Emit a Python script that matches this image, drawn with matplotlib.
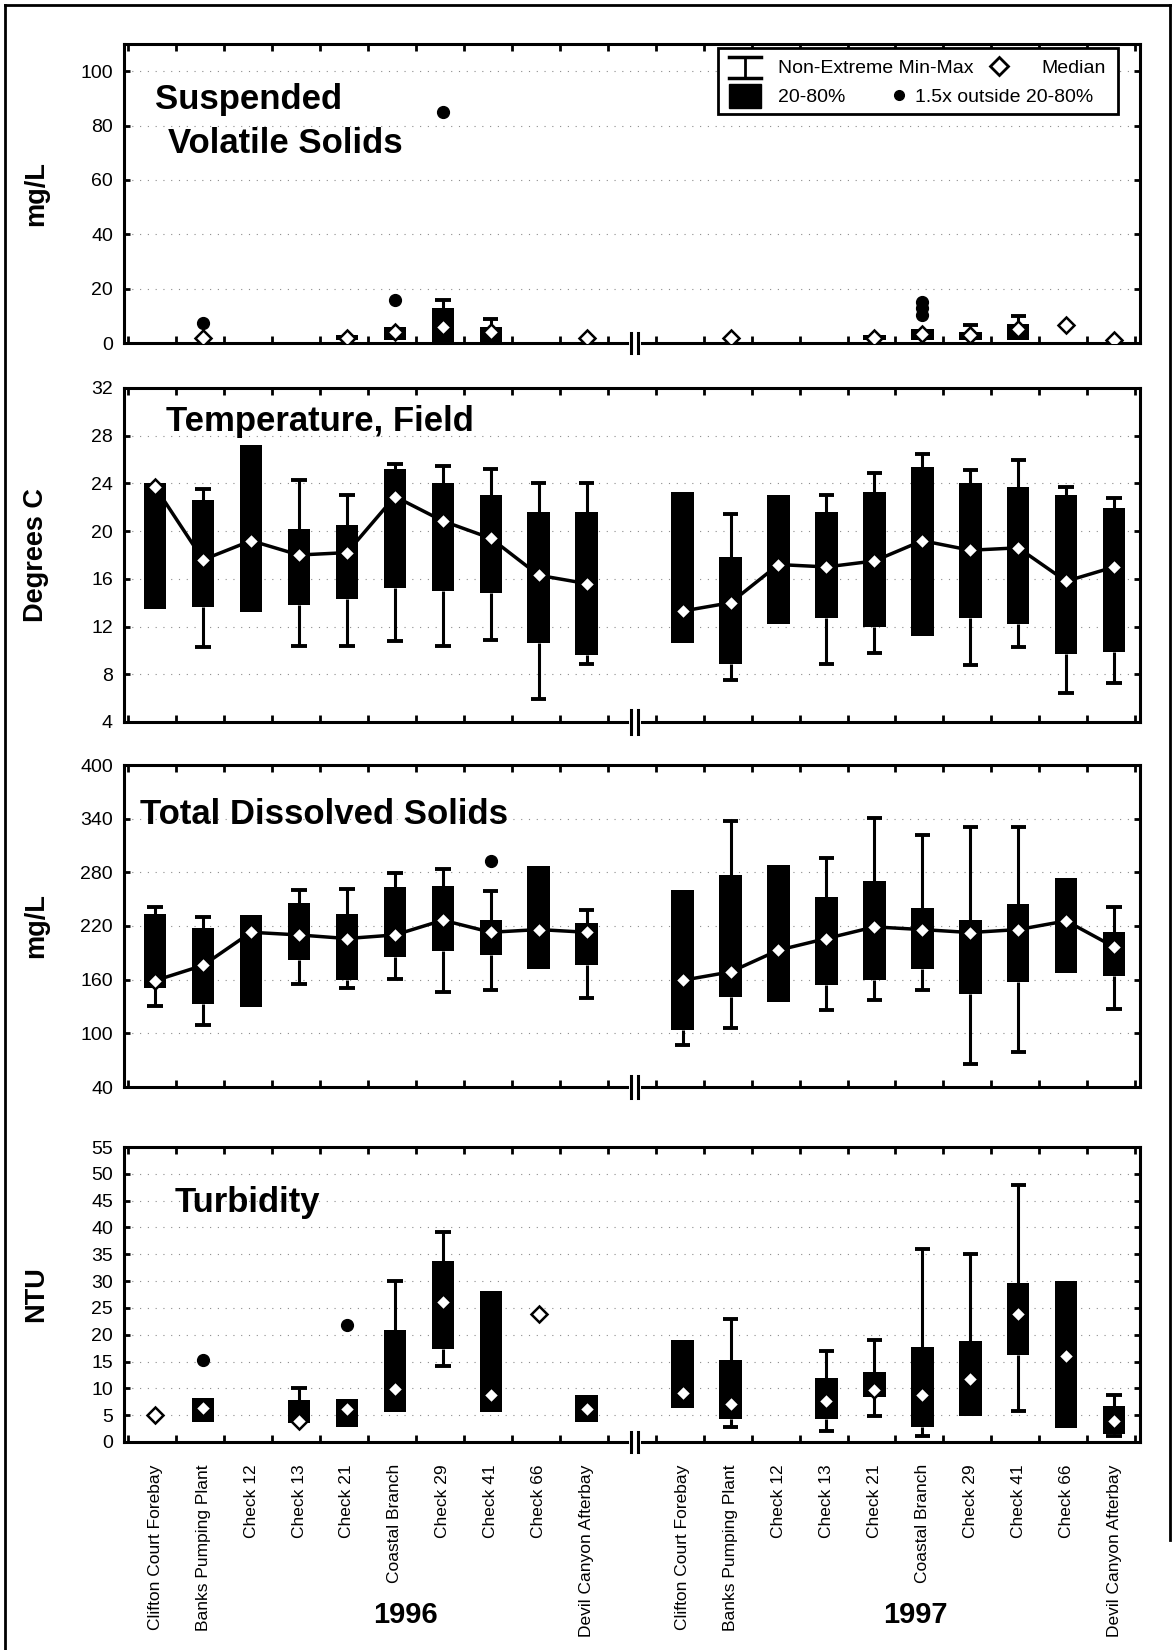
import numpy as np
import matplotlib
matplotlib.use("Agg")
import matplotlib.pyplot as plt
import matplotlib.transforms as mtransforms
from matplotlib.lines import Line2D
from matplotlib.patches import Rectangle

plt.rcParams['font.family'] = ['Liberation Sans', 'DejaVu Sans']

nan = np.nan

# sites sampled each year
sites = ["Clifton Court Forebay", "Banks Pumping Plant", "Check 12", "Check 13", "Check 21",
         "Coastal Branch", "Check 29", "Check 41", "Check 66", "Devil Canyon Afterbay"]
years = ["1996", "1997"]

# Suspended Volatile Solids (mg/L): whisker low, box low (20%), median, box high (80%), whisker high
svs_wlo_96 = [nan] * 10
svs_blo_96 = [nan, nan, nan, nan, 1, 1, 0.5, 0.5, nan, nan]
svs_med_96 = [nan, 2, nan, nan, 2, 4, 6, 4, nan, 2]
svs_bhi_96 = [nan, nan, nan, nan, 3, 6, 13, 6, nan, nan]
svs_whi_96 = [nan, nan, nan, nan, nan, nan, 16, 9, nan, nan]
svs_out_96 = [(1, 7.3), (5, 16), (6, 85)]
svs_wlo_97 = [nan] * 10
svs_blo_97 = [nan, nan, nan, nan, 1, 1, 1, 1, nan, nan]
svs_med_97 = [nan, 2, nan, nan, 2, 3.3, 3, 5, 6.6, 1]
svs_bhi_97 = [nan, nan, nan, nan, 3, 5, 4, 7, nan, nan]
svs_whi_97 = [nan, nan, nan, nan, nan, nan, 6.6, 9.9, nan, nan]
svs_out_97 = [(5, 10.3), (5, 12.8), (5, 15)]

# Temperature, Field (Degrees C)
tmp_wlo_96 = [nan, 10.3, nan, 10.35, 10.35, 10.8, 10.4, 10.85, 5.95, 8.9]
tmp_blo_96 = [13.5, 13.6, 13.2, 13.8, 14.3, 15.2, 15.0, 14.8, 10.6, 9.6]
tmp_med_96 = [23.7, 17.6, 19.2, 18.0, 18.2, 22.9, 20.85, 19.4, 16.3, 15.6]
tmp_bhi_96 = [24.0, 22.6, 27.2, 20.2, 20.5, 25.2, 24.0, 23.0, 21.6, 21.6]
tmp_whi_96 = [nan, 23.5, nan, 24.3, 23.0, 25.6, 25.5, 25.2, 24.0, 24.0]
tmp_wlo_97 = [nan, 7.5, nan, 8.9, 9.8, nan, 8.8, 10.3, 6.45, 7.3]
tmp_blo_97 = [10.6, 8.9, 12.25, 12.7, 12.0, 11.2, 12.7, 12.25, 9.7, 9.9]
tmp_med_97 = [13.3, 14.0, 17.2, 17.0, 17.5, 19.2, 18.4, 18.6, 15.8, 17.0]
tmp_bhi_97 = [23.3, 17.8, 23.0, 21.6, 23.3, 25.4, 24.0, 23.7, 23.0, 21.9]
tmp_whi_97 = [nan, 21.4, nan, 23.0, 24.9, 26.5, 25.1, 26.0, 23.7, 22.75]

# Total Dissolved Solids (mg/L)
tds_wlo_96 = [131, 109, nan, 155.6, 151, 161, 146, 149, nan, 139]
tds_blo_96 = [151, 133, 130, 182.5, 160, 185, 192, 188, 172, 176]
tds_med_96 = [159, 176, 213, 210, 206, 210, 226.5, 213, 216, 213]
tds_bhi_96 = [233, 218, 232, 246, 233, 264, 264.5, 226.5, 287, 223.5]
tds_whi_96 = [241, 230, nan, 260, 261, 279.5, 284, 259, nan, 238.4]
tds_out_96 = [(7, 292.5)]
tds_wlo_97 = [86.6, 106, nan, 125.7, 137.7, 148, 66, 79, nan, 127.6]
tds_blo_97 = [103.4, 140.7, 135, 154.5, 160, 172.4, 144.4, 157.5, 167.5, 164]
tds_med_97 = [159.3, 168.7, 193, 206, 219, 216, 212.7, 216, 225.7, 196.6]
tds_bhi_97 = [260, 277, 288, 252.6, 270.5, 239.6, 226.5, 245, 274, 213.4]
tds_whi_97 = [nan, 337.7, nan, 295.5, 341, 321.6, 331, 331, nan, 240.7]
tds_out_97 = []

# Turbidity (NTU)
tur_wlo_96 = [nan, nan, nan, nan, nan, nan, 14.1, nan, nan, nan]
tur_blo_96 = [nan, 3.7, nan, 3.5, 2.8, 5.6, 17.4, 5.6, nan, 3.7]
tur_med_96 = [5.0, 6.4, nan, 4.0, 6.2, 9.9, 26.1, 8.7, 23.9, 6.2]
tur_bhi_96 = [nan, 8.2, nan, 7.9, 8.1, 20.9, 33.7, 28.1, nan, 8.8]
tur_whi_96 = [nan, nan, nan, 10.1, nan, 30.1, 39.2, nan, nan, nan]
tur_out_96 = [(1, 15.2), (4, 21.9)]
tur_wlo_97 = [nan, 2.8, nan, 2.0, 4.8, 1.06, nan, 5.7, nan, 1.06]
tur_blo_97 = [6.4, 4.35, nan, 4.35, 8.4, 2.8, 4.85, 16.3, 2.7, 1.55]
tur_med_97 = [9.2, 7.1, nan, 7.6, 9.75, 8.7, 11.8, 23.9, 16.0, 4.0]
tur_bhi_97 = [18.95, 15.2, nan, 12.0, 13.05, 17.8, 18.8, 29.7, 30.0, 6.7]
tur_whi_97 = [nan, 22.9, nan, 17.0, 18.95, 36.0, 35.0, 47.9, nan, 8.8]
tur_out_97 = []

# categorical slots: 1996 in 0..9, one empty slot (axis break), 1997 in 11..20
pos_96 = np.arange(10)
pos_97 = np.arange(11, 21)
x_break = 10.0

fig = plt.figure(figsize=(11.74, 16.5), dpi=100)
L, W = 124 / 1174, 1016 / 1174


def panel_axes(top_px, bot_px):
    return fig.add_axes([L, 1 - bot_px / 1650, W, (bot_px - top_px) / 1650])


def draw_year(ax, pos, wlo, blo, med, bhi, whi, outl, connect):
    wlo, blo, med, bhi, whi = map(np.array, (wlo, blo, med, bhi, whi))
    ok = ~np.isnan(blo)
    ax.bar(pos[ok], bhi[ok] - blo[ok], bottom=blo[ok], width=0.47, color='black', zorder=2)
    cap = 0.16
    for x, a, b, c, d in zip(pos, wlo, blo, bhi, whi):
        if not np.isnan(d):
            ax.vlines(x, c, d, color='black', lw=2.2, zorder=2)
            ax.hlines(d, x - cap, x + cap, color='black', lw=2.8, zorder=2)
        if not np.isnan(a):
            ax.vlines(x, a, b, color='black', lw=2.2, zorder=2)
            ax.hlines(a, x - cap, x + cap, color='black', lw=2.8, zorder=2)
    if connect:
        ax.plot(pos, med, color='black', lw=2.5, zorder=3)
    ax.plot(pos, med, ls='none', marker='D', ms=8.5, mfc='white', mec='black', mew=1.8, zorder=4)
    for i, v in outl:
        ax.plot(pos[i], v, 'o', color='black', ms=8.5, zorder=4)


def style(ax, ylim, yticks, ylabel):
    ax.set_xlim(-0.65, 20.54)
    ax.set_ylim(*ylim)
    ax.set_yticks(yticks)
    ax.set_xticks(np.arange(-1, 21) + 0.44)
    ax.tick_params(axis='x', which='major', direction='in', top=True, bottom=True,
                   length=5, width=2, labelbottom=False)
    ax.tick_params(axis='y', direction='in', left=True, right=True, length=4, width=2,
                   labelsize=14, pad=8)
    for s in ['top', 'left', 'right']:
        ax.spines[s].set_linewidth(2.2)
    ax.spines['bottom'].set_visible(False)
    ax.grid(axis='y', color='0.55', ls=(0, (1, 6)), lw=0.8)
    ax.set_axisbelow(True)
    trans = mtransforms.blended_transform_factory(ax.transData, ax.transAxes)
    ax.plot([-0.65, x_break - 0.15], [0, 0], color='black', lw=2.2, transform=trans, clip_on=False)
    ax.plot([x_break + 0.15, 20.54], [0, 0], color='black', lw=2.2, transform=trans, clip_on=False)
    for bx in (x_break - 0.08, x_break + 0.08):
        ax.plot([bx, bx], [-0.035, 0.035], color='black', lw=2.2, transform=trans, clip_on=False)
    ax.set_ylabel(ylabel, fontsize=19.5, fontweight='bold')
    ax.yaxis.set_label_coords(-0.074, 0.5)


TITLE = dict(fontsize=25, fontweight='bold')

# panel 1: suspended volatile solids
ax1 = panel_axes(44, 343)
draw_year(ax1, pos_96, svs_wlo_96, svs_blo_96, svs_med_96, svs_bhi_96, svs_whi_96, svs_out_96, False)
draw_year(ax1, pos_97, svs_wlo_97, svs_blo_97, svs_med_97, svs_bhi_97, svs_whi_97, svs_out_97, False)
style(ax1, (0, 110), [0, 20, 40, 60, 80, 100], "mg/L")
ax1.text(0.031, 0.783, "Suspended", transform=ax1.transAxes, **TITLE)
ax1.text(0.043, 0.637, "Volatile Solids", transform=ax1.transAxes, **TITLE)

# legend drawn by hand
ta = ax1.transAxes
ax1.add_patch(Rectangle((0.585, 0.766), 0.393, 0.221, transform=ta, fc='white', ec='black',
                        lw=2, zorder=5))
ax1.plot([0.611, 0.611], [0.885, 0.955], color='black', lw=2, transform=ta, zorder=6)
ax1.plot([0.595, 0.627], [0.955, 0.955], color='black', lw=2.5, transform=ta, zorder=6)
ax1.plot([0.595, 0.627], [0.885, 0.885], color='black', lw=2.5, transform=ta, zorder=6)
ax1.text(0.644, 0.918, "Non-Extreme Min-Max", transform=ta, fontsize=14, va='center', zorder=6)
ax1.plot(0.861, 0.925, 'D', ms=9, mfc='white', mec='black', mew=2, transform=ta, zorder=6)
ax1.text(0.903, 0.918, "Median", transform=ta, fontsize=14, va='center', zorder=6)
ax1.add_patch(Rectangle((0.595, 0.786), 0.032, 0.08, transform=ta, fc='black', ec='black',
                        zorder=6))
ax1.text(0.644, 0.82, "20-80%", transform=ta, fontsize=14, va='center', zorder=6)
ax1.plot(0.763, 0.83, 'o', color='black', ms=7, transform=ta, zorder=6)
ax1.text(0.779, 0.82, "1.5x outside 20-80%", transform=ta, fontsize=14, va='center', zorder=6)

# panel 2: temperature
ax2 = panel_axes(388, 722)
draw_year(ax2, pos_96, tmp_wlo_96, tmp_blo_96, tmp_med_96, tmp_bhi_96, tmp_whi_96, [], True)
draw_year(ax2, pos_97, tmp_wlo_97, tmp_blo_97, tmp_med_97, tmp_bhi_97, tmp_whi_97, [], True)
style(ax2, (4, 32), [4, 8, 12, 16, 20, 24, 28, 32], "Degrees C")
ax2.text(0.041, 0.871, "Temperature, Field", transform=ax2.transAxes, **TITLE)

# panel 3: total dissolved solids
ax3 = panel_axes(765, 1087)
draw_year(ax3, pos_96, tds_wlo_96, tds_blo_96, tds_med_96, tds_bhi_96, tds_whi_96, tds_out_96, True)
draw_year(ax3, pos_97, tds_wlo_97, tds_blo_97, tds_med_97, tds_bhi_97, tds_whi_97, tds_out_97, True)
style(ax3, (40, 400), [40, 100, 160, 220, 280, 340, 400], "mg/L")
ax3.text(0.016, 0.817, "Total Dissolved Solids", transform=ax3.transAxes, **TITLE)

# panel 4: turbidity
ax4 = panel_axes(1147, 1442)
draw_year(ax4, pos_96, tur_wlo_96, tur_blo_96, tur_med_96, tur_bhi_96, tur_whi_96, tur_out_96, False)
draw_year(ax4, pos_97, tur_wlo_97, tur_blo_97, tur_med_97, tur_bhi_97, tur_whi_97, tur_out_97, False)
style(ax4, (0, 55), np.arange(0, 56, 5), "NTU")
ax4.text(0.05, 0.78, "Turbidity", transform=ax4.transAxes, **TITLE)
ax4.set_xticks(np.concatenate([pos_96, pos_97]), sites + sites, minor=True)
ax4.tick_params(axis='x', which='minor', length=0, labelsize=12.5, rotation=90, pad=16)

# year labels
fig.text(405 / 1174, 1 - 1615 / 1650, years[0], fontsize=21, fontweight='bold', ha='center', va='center')
fig.text(915 / 1174, 1 - 1615 / 1650, years[1], fontsize=21, fontweight='bold', ha='center', va='center')

# outer frame
fig.add_artist(Line2D([5 / 1174, 1170 / 1174], [1 - 5 / 1650, 1 - 5 / 1650], color='black', lw=2,
                      transform=fig.transFigure))
fig.add_artist(Line2D([5 / 1174, 5 / 1174], [0, 1 - 5 / 1650], color='black', lw=2,
                      transform=fig.transFigure))
fig.add_artist(Line2D([1170 / 1174, 1170 / 1174], [1 - 1540 / 1650, 1 - 5 / 1650], color='black', lw=2,
                      transform=fig.transFigure))

fig.savefig("out.png", dpi=100)
